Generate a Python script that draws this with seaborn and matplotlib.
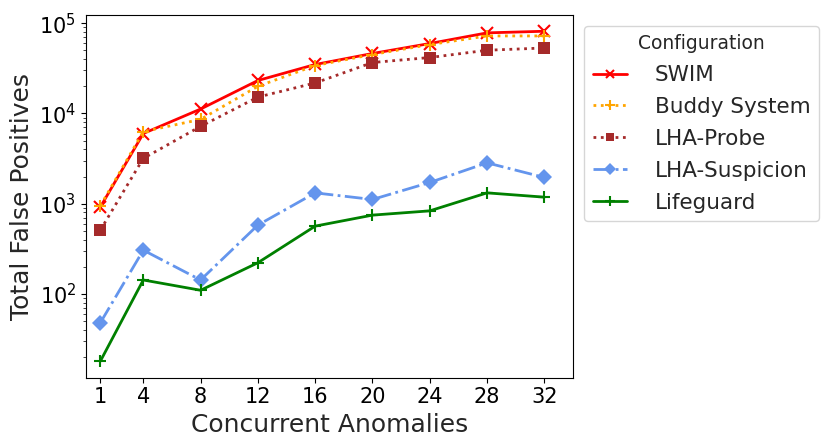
import numpy as np
import pandas as pd
import matplotlib.pyplot as plt
import seaborn as sns

# Data
anomalies = [1, 4, 8, 12, 16, 20, 24, 28, 32]
swim = [920, 6000, 11200, 23200, 34900, 46200, 59600, 78200, 81500]
buddy = [950, 6300, 8600, 20000, 34000, 45000, 58000, 72300, 72300]
lha_probe = [510, 3180, 7200, 15200, 21800, 36700, 41700, 50200, 53200]
lha_suspicion = [48, 306, 143, 580, 1320, 1115, 1720, 2840, 1955]
lifeguard = [18, 143, 110, 222, 565, 748, 834, 1320, 1183]

series = {
    "SWIM": swim,
    "Buddy System": buddy,
    "LHA-Probe": lha_probe,
    "LHA-Suspicion": lha_suspicion,
    "Lifeguard": lifeguard,
}

styles = {
    "SWIM": dict(color="red", linestyle="-", marker="x", markersize=8, markeredgewidth=1.5),
    "Buddy System": dict(color="orange", linestyle=":", marker="+", markersize=9, markeredgewidth=1.5),
    "LHA-Probe": dict(color="brown", linestyle=":", marker="s", markersize=8, markeredgewidth=0),
    "LHA-Suspicion": dict(color="cornflowerblue", linestyle="-.", marker="D", markersize=8, markeredgewidth=0),
    "Lifeguard": dict(color="green", linestyle="-", marker="+", markersize=9, markeredgewidth=1.5),
}

sns.set_style("ticks")
plt.rcParams["font.family"] = ["DejaVu Sans"]

fig = plt.figure(figsize=(8.31, 4.47), dpi=100)
ax = fig.add_axes([0.1035, 0.155, 0.586, 0.812])

for name, vals in series.items():
    df = pd.DataFrame({"Concurrent Anomalies": anomalies, "Total False Positives": vals})
    st = styles[name]
    sns.lineplot(data=df, x="Concurrent Anomalies", y="Total False Positives",
                 ax=ax, label=name, linewidth=2, markeredgecolor=st["color"], **st)

ax.set_yscale("log")
ax.set_xlim(0, 34)
ax.set_xticks(anomalies)
ax.tick_params(axis="both", labelsize=15, colors="black")
for s in ax.spines.values():
    s.set_color("black")
ax.set_xlabel("Concurrent Anomalies", fontsize=18)
ax.set_ylabel("Total False Positives", fontsize=18)

handles, labels = ax.get_legend_handles_labels()
ax.legend_.remove()
fig.legend(handles, labels, title="Configuration", loc="upper left",
           bbox_to_anchor=(0.7028, 0.9425), borderaxespad=0, fontsize=15.5,
           title_fontsize=13.5, frameon=True, markerscale=0.75,
           handlelength=1.6, handletextpad=1.3, labelspacing=0.55)

fig.savefig("out.png", dpi=100)
